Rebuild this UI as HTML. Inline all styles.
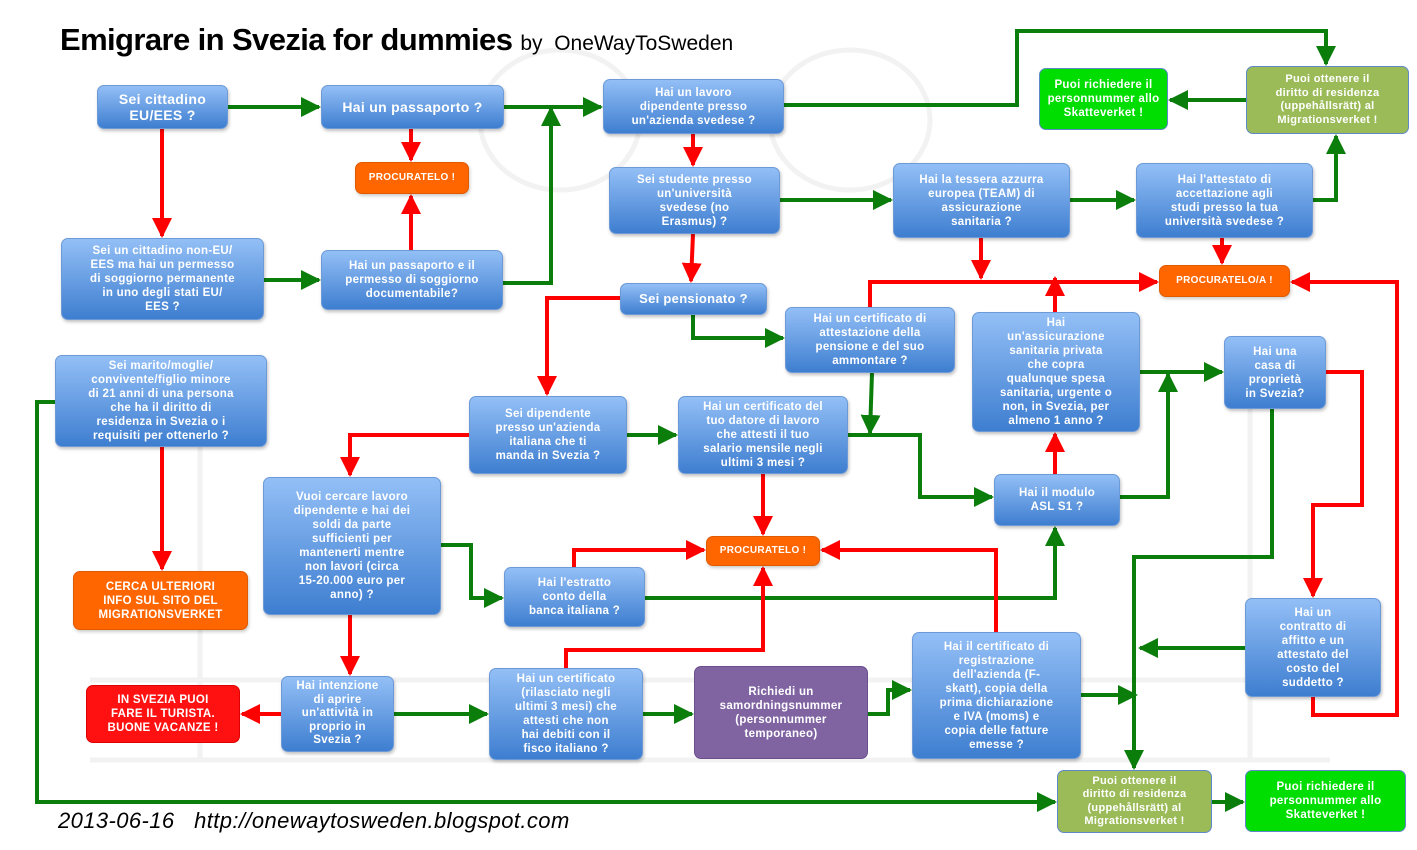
<!DOCTYPE html>
<html><head><meta charset="utf-8"><style>
body{margin:0;width:1417px;height:850px;background:#fff;position:relative;overflow:hidden;font-family:"Liberation Sans",sans-serif}
.b{position:absolute;box-sizing:border-box;display:flex;align-items:center;justify-content:center;text-align:center;color:#fff;font-weight:bold;font-size:11.5px;line-height:14px;border-radius:7px;padding:1px 3px;letter-spacing:0.3px}
.bl{background:linear-gradient(#93bff6,#3e7ed0);border:1px solid #6c9ad8;box-shadow:1px 2px 3px rgba(0,0,0,0.25)}
.or{background:#ff6600;border:1px solid #e05a00;box-shadow:1px 2px 3px rgba(0,0,0,0.2)}
.ol{background:#9bbb59;border:1px solid #5f88c8}
.gr{background:#00dd00;border:1px solid #5f88c8}
.rd{background:#ff1111;border:1px solid #dd0000}
.pu{background:#8064a2;border:1px solid #6a4f8c}
svg{position:absolute;left:0;top:0}
</style></head><body>
<svg width="1417" height="850">
<defs>
<marker id="g" markerWidth="5" markerHeight="5" refX="4.5" refY="2.5" orient="auto" markerUnits="strokeWidth"><path d="M0,0L5,2.5L0,5z" fill="#0b7d0b"/></marker>
<marker id="r" markerWidth="5" markerHeight="5" refX="4.5" refY="2.5" orient="auto" markerUnits="strokeWidth"><path d="M0,0L5,2.5L0,5z" fill="#ff0000"/></marker>
</defs>
<g fill="none" stroke="#f2f2f2" stroke-width="5">
<ellipse cx="560" cy="120" rx="80" ry="70"/><ellipse cx="850" cy="120" rx="80" ry="70"/>
<path d="M90,680 L1330,680 M90,760 L1330,760 M200,360 L200,760 M1250,360 L1250,760"/>
</g>
<g fill="none" stroke="#0b7d0b" stroke-width="4" stroke-linejoin="miter">
<polyline points="228,107 319,107" marker-end="url(#g)"/>
<polyline points="504,107 601,107" marker-end="url(#g)"/>
<polyline points="503,283 551,283 551,108" marker-end="url(#g)"/>
<polyline points="264,280 319,280" marker-end="url(#g)"/>
<polyline points="784,105 1017,105 1017,31 1326,31 1326,64" marker-end="url(#g)"/>
<polyline points="1246,100 1170,100" marker-end="url(#g)"/>
<polyline points="780,200 891,200" marker-end="url(#g)"/>
<polyline points="1070,200 1134,200" marker-end="url(#g)"/>
<polyline points="1313,200 1336,200 1336,136" marker-end="url(#g)"/>
<polyline points="693,315 693,338 783,338" marker-end="url(#g)"/>
<polyline points="872,373 870,433" marker-end="url(#g)"/>
<polyline points="627,435 676,435" marker-end="url(#g)"/>
<polyline points="848,435 920,435 920,497 992,497" marker-end="url(#g)"/>
<polyline points="1140,372 1222,372" marker-end="url(#g)"/>
<polyline points="1120,497 1168,497 1168,374" marker-end="url(#g)"/>
<polyline points="441,545 471,545 471,598 502,598" marker-end="url(#g)"/>
<polyline points="645,598 1055,598 1055,528" marker-end="url(#g)"/>
<polyline points="1272,409 1272,557 1134,557 1134,768" marker-end="url(#g)"/>
<polyline points="1245,648 1140,648" marker-end="url(#g)"/>
<polyline points="394,714 487,714" marker-end="url(#g)"/>
<polyline points="643,714 692,714" marker-end="url(#g)"/>
<polyline points="868,714 888,714 888,690 910,690" marker-end="url(#g)"/>
<polyline points="1081,695 1136,695" marker-end="url(#g)"/>
<polyline points="55,402 37,402 37,802 1055,802" marker-end="url(#g)"/>
<polyline points="1212,802 1243,802" marker-end="url(#g)"/>
</g>
<g fill="none" stroke="#ff0000" stroke-width="4">
<polyline points="162,129 162,236" marker-end="url(#r)"/>
<polyline points="411,129 411,160" marker-end="url(#r)"/>
<polyline points="411,250 411,196" marker-end="url(#r)"/>
<polyline points="162,447 162,569" marker-end="url(#r)"/>
<polyline points="693,134 693,165" marker-end="url(#r)"/>
<polyline points="693,234 691,281" marker-end="url(#r)"/>
<polyline points="620,298 547,298 547,394" marker-end="url(#r)"/>
<polyline points="469,435 350,435 350,475" marker-end="url(#r)"/>
<polyline points="350,615 350,674" marker-end="url(#r)"/>
<polyline points="281,714 242,714" marker-end="url(#r)"/>
<polyline points="981,238 981,278" marker-end="url(#r)"/>
<polyline points="1222,238 1222,263" marker-end="url(#r)"/>
<polyline points="870,307 870,282 1157,282" marker-end="url(#r)"/>
<polyline points="1055,312 1055,278" marker-end="url(#r)"/>
<polyline points="1055,474 1055,434" marker-end="url(#r)"/>
<polyline points="1313,697 1313,715 1397,715 1397,282 1292,282" marker-end="url(#r)"/>
<polyline points="1326,372 1362,372 1362,505 1313,505 1313,596" marker-end="url(#r)"/>
<polyline points="763,474 763,534" marker-end="url(#r)"/>
<polyline points="574,567 574,550 704,550" marker-end="url(#r)"/>
<polyline points="566,668 566,650 763,650 763,568" marker-end="url(#r)"/>
<polyline points="996,632 996,550 822,550" marker-end="url(#r)"/>
</g>
</svg>
<div style="position:absolute;left:60px;top:22px;font-size:31px;font-weight:bold;letter-spacing:-0.6px;white-space:nowrap">Emigrare in Svezia for dummies <span style="font-size:21px;font-weight:normal;letter-spacing:0px">by&nbsp; OneWayToSweden</span></div>
<div style="position:absolute;left:58px;top:808px;font-size:22px;font-style:italic;white-space:nowrap;letter-spacing:0.4px">2013-06-16&nbsp;&nbsp; http://onewaytosweden.blogspot.com</div>

<div class="b bl" style="left:97px;top:85px;width:131px;height:44px;font-size:14px;line-height:16px">Sei cittadino<br>EU/EES ?</div>
<div class="b bl" style="left:321px;top:85px;width:183px;height:44px;font-size:14px">Hai un passaporto ?</div>
<div class="b or" style="left:355px;top:162px;width:114px;height:32px;font-size:10px">PROCURATELO !</div>
<div class="b bl" style="left:61px;top:238px;width:203px;height:82px">Sei un cittadino non-EU/<br>EES ma hai un permesso<br>di soggiorno permanente<br>in uno degli stati EU/<br>EES ?</div>
<div class="b bl" style="left:321px;top:250px;width:182px;height:60px">Hai un passaporto e il<br>permesso di soggiorno<br>documentabile?</div>
<div class="b bl" style="left:55px;top:355px;width:212px;height:92px">Sei marito/moglie/<br>convivente/figlio minore<br>di 21 anni di una persona<br>che ha il diritto di<br>residenza in Svezia o i<br>requisiti per ottenerlo ?</div>
<div class="b or" style="left:73px;top:571px;width:175px;height:59px">CERCA ULTERIORI<br>INFO SUL SITO DEL<br>MIGRATIONSVERKET</div>
<div class="b bl" style="left:603px;top:79px;width:181px;height:55px">Hai un lavoro<br>dipendente presso<br>un'azienda svedese ?</div>
<div class="b bl" style="left:609px;top:167px;width:171px;height:67px">Sei studente presso<br>un'università<br>svedese (no<br>Erasmus) ?</div>
<div class="b bl" style="left:620px;top:283px;width:147px;height:32px;font-size:13px">Sei pensionato ?</div>
<div class="b bl" style="left:893px;top:163px;width:177px;height:75px">Hai la tessera azzurra<br>europea (TEAM) di<br>assicurazione<br>sanitaria ?</div>
<div class="b bl" style="left:1136px;top:163px;width:177px;height:75px">Hai l'attestato di<br>accettazione agli<br>studi presso la tua<br>università svedese ?</div>
<div class="b gr" style="left:1039px;top:68px;width:129px;height:62px">Puoi richiedere il<br>personnummer allo<br>Skatteverket !</div>
<div class="b ol" style="left:1246px;top:66px;width:163px;height:68px;font-size:11px;line-height:13.5px">Puoi ottenere il<br>diritto di residenza<br>(uppehållsrätt) al<br>Migrationsverket !</div>
<div class="b or" style="left:1159px;top:265px;width:131px;height:32px;font-size:10px">PROCURATELO/A !</div>
<div class="b bl" style="left:785px;top:307px;width:170px;height:66px">Hai un certificato di<br>attestazione della<br>pensione e del suo<br>ammontare ?</div>
<div class="b bl" style="left:972px;top:312px;width:168px;height:120px">Hai<br>un'assicurazione<br>sanitaria privata<br>che copra<br>qualunque spesa<br>sanitaria, urgente o<br>non, in Svezia, per<br>almeno 1 anno ?</div>
<div class="b bl" style="left:1224px;top:336px;width:102px;height:73px">Hai una<br>casa di<br>proprietà<br>in Svezia?</div>
<div class="b bl" style="left:469px;top:396px;width:158px;height:78px">Sei dipendente<br>presso un'azienda<br>italiana che ti<br>manda in Svezia ?</div>
<div class="b bl" style="left:678px;top:396px;width:170px;height:78px">Hai un certificato del<br>tuo datore di lavoro<br>che attesti il tuo<br>salario mensile negli<br>ultimi 3 mesi ?</div>
<div class="b bl" style="left:994px;top:474px;width:126px;height:52px">Hai il modulo<br>ASL S1 ?</div>
<div class="b bl" style="left:263px;top:477px;width:178px;height:138px">Vuoi cercare lavoro<br>dipendente e hai dei<br>soldi da parte<br>sufficienti per<br>mantenerti mentre<br>non lavori (circa<br>15-20.000 euro per<br>anno) ?</div>
<div class="b or" style="left:706px;top:536px;width:114px;height:30px;font-size:10px">PROCURATELO !</div>
<div class="b bl" style="left:504px;top:567px;width:141px;height:60px">Hai l'estratto<br>conto della<br>banca italiana ?</div>
<div class="b bl" style="left:1245px;top:598px;width:136px;height:99px">Hai un<br>contratto di<br>affitto e un<br>attestato del<br>costo del<br>suddetto ?</div>
<div class="b bl" style="left:281px;top:676px;width:113px;height:76px;line-height:13.5px">Hai intenzione<br>di aprire<br>un'attività in<br>proprio in<br>Svezia ?</div>
<div class="b rd" style="left:86px;top:685px;width:154px;height:58px">IN SVEZIA PUOI<br>FARE IL TURISTA.<br>BUONE VACANZE !</div>
<div class="b bl" style="left:489px;top:668px;width:154px;height:92px">Hai un certificato<br>(rilasciato negli<br>ultimi 3 mesi) che<br>attesti che non<br>hai debiti con il<br>fisco italiano ?</div>
<div class="b pu" style="left:694px;top:666px;width:174px;height:93px">Richiedi un<br>samordningsnummer<br>(personnummer<br>temporaneo)</div>
<div class="b bl" style="left:912px;top:632px;width:169px;height:127px">Hai il certificato di<br>registrazione<br>dell'azienda (F-<br>skatt), copia della<br>prima dichiarazione<br>e IVA (moms) e<br>copia delle fatture<br>emesse ?</div>
<div class="b ol" style="left:1057px;top:770px;width:155px;height:63px;font-size:11px;line-height:13.5px">Puoi ottenere il<br>diritto di residenza<br>(uppehållsrätt) al<br>Migrationsverket !</div>
<div class="b gr" style="left:1245px;top:770px;width:161px;height:62px">Puoi richiedere il<br>personnummer allo<br>Skatteverket !</div>
</body></html>
